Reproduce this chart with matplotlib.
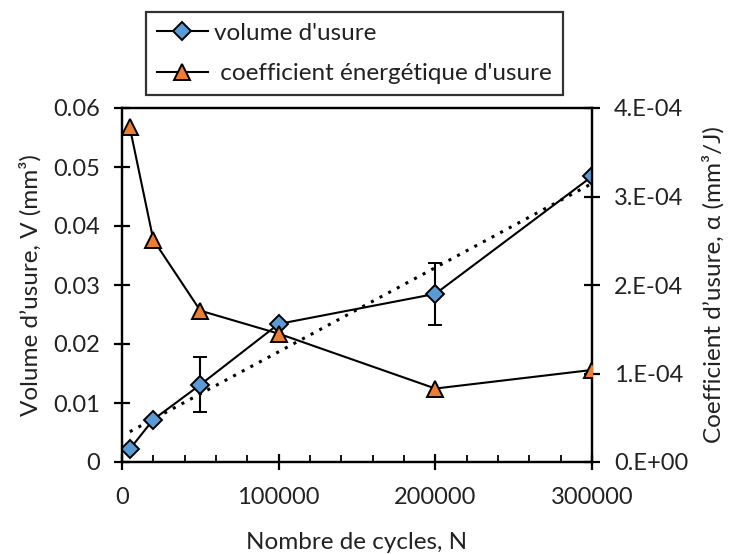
import numpy as np
import matplotlib
matplotlib.use("Agg")
import matplotlib.pyplot as plt
from matplotlib.ticker import FixedLocator, FixedFormatter, MultipleLocator
from matplotlib.lines import Line2D

plt.rcParams['font.family'] = ['Lato', 'DejaVu Sans']

# Data
cycles = [5000, 20000, 50000, 100000, 200000, 300000]
volume = [0.0022, 0.0072, 0.0131, 0.0234, 0.0285, 0.0484]
volume_err = [0.0, 0.0, 0.0047, 0.0, 0.0053, 0.0]
coeff = [3.78e-4, 2.51e-4, 1.71e-4, 1.45e-4, 0.83e-4, 1.04e-4]

x_ticks = [0, 100000, 200000, 300000]
x_ticklabels = ['0', '100000', '200000', '300000']
y_ticks = [0, 0.01, 0.02, 0.03, 0.04, 0.05, 0.06]
y_ticklabels = ['0', '0.01', '0.02', '0.03', '0.04', '0.05', '0.06']
y2_ticks = [0, 1e-4, 2e-4, 3e-4, 4e-4]
y2_ticklabels = ['0.E+00', '1.E-04', '2.E-04', '3.E-04', '4.E-04']
labels = ["volume d'usure", " coefficient énergétique d'usure"]

blue = '#5B9BD5'
orange = '#ED7D31'
txt = '#222222'

fig = plt.figure(figsize=(7.3, 5.54), dpi=100)
ax = fig.add_axes([122/730, 1-462/554, (592-122)/730, (462-108)/554])
ax2 = ax.twinx()

# trendline (linear fit of volume)
p = np.polyfit(cycles, volume, 1)
xt = np.array([cycles[0], cycles[-1]])
ax.plot(xt, np.polyval(p, xt), color='black', linestyle=(0, (1, 2.2)), lw=2.2, zorder=2)

dkw = dict(marker='D', markersize=9, markerfacecolor=blue, markeredgecolor='black',
           markeredgewidth=1.4)
tkw = dict(marker='^', markersize=12, markerfacecolor=orange, markeredgecolor='black',
           markeredgewidth=1.4)

# Volume series
ax.errorbar(cycles, volume, yerr=volume_err, color='black', lw=1.5,
            ecolor='black', elinewidth=1.5, capsize=5, capthick=1.5, zorder=3, **dkw)

# Coefficient series
ax2.plot(cycles, coeff, color='black', lw=1.5, zorder=3, **tkw)

ax.set_xlim(0, 300000)
ax.set_ylim(0, 0.06)
ax2.set_ylim(0, 4e-4)

ax.xaxis.set_major_locator(FixedLocator(x_ticks))
ax.xaxis.set_major_formatter(FixedFormatter(x_ticklabels))
ax.xaxis.set_minor_locator(MultipleLocator(20000))
ax.yaxis.set_major_locator(FixedLocator(y_ticks))
ax.yaxis.set_major_formatter(FixedFormatter(y_ticklabels))
ax2.yaxis.set_major_locator(FixedLocator(y2_ticks))
ax2.yaxis.set_major_formatter(FixedFormatter(y2_ticklabels))

for a in (ax, ax2):
    for s in a.spines.values():
        s.set_linewidth(1.6)
        s.set_color('black')

ax.tick_params(axis='x', which='major', direction='inout', length=12, width=1.6,
               labelsize=17, pad=12, colors='black', labelcolor=txt)
ax.tick_params(axis='x', which='minor', direction='in', length=5, width=1.3)
ax.tick_params(axis='y', which='major', direction='inout', length=12, width=1.6,
               labelsize=17, pad=10, labelcolor=txt)
ax2.tick_params(axis='y', which='major', direction='inout', length=12, width=1.6,
                labelsize=17, pad=10, labelcolor=txt)

ax.set_xlabel('Nombre de cycles, N', fontsize=17.5, color=txt, labelpad=17)
ax.set_ylabel('Volume d’usure, V (mm³)', fontsize=17.5, color=txt, labelpad=8)
ax2.set_ylabel('Coefficient d’usure, α (mm³/J)', fontsize=17.5, color=txt, labelpad=10)

handles = [Line2D([], [], color='black', lw=1.5, **dkw),
           Line2D([], [], color='black', lw=1.5, **tkw)]
leg = fig.legend(handles, labels, loc='upper left',
                 bbox_to_anchor=(146/730, 1-12/554), fontsize=17.5,
                 frameon=True, fancybox=False, edgecolor='black',
                 handlelength=2.1, handletextpad=0.25, labelspacing=0.8,
                 borderpad=0.45, borderaxespad=0)
leg.get_frame().set_linewidth(1.6)
for t in leg.get_texts():
    t.set_color(txt)

fig.savefig('out.png', dpi=100)
